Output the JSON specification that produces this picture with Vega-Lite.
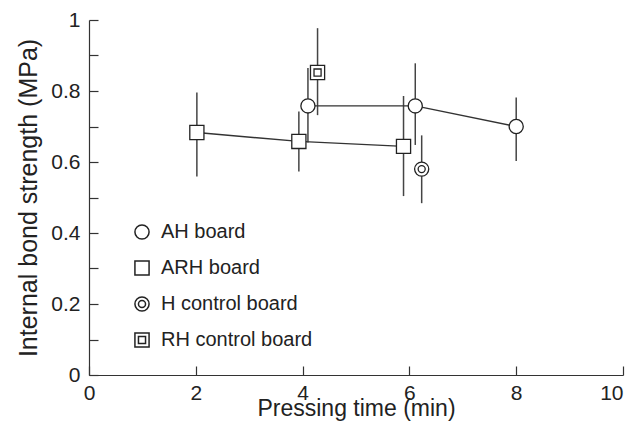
{
  "$schema": "https://vega.github.io/schema/vega-lite/v6.json",
  "width": 534,
  "height": 355,
  "autosize": {"type": "none"},
  "padding": {"left": 89, "top": 20, "right": 10, "bottom": 66},
  "background": "white",
  "config": {
    "font": "Liberation Sans",
    "view": {"stroke": null},
    "point": {"opacity": 1},
    "axis": {"grid": false, "domainColor": "#333", "tickColor": "#333", "labelColor": "#222", "titleColor": "#222", "titleFontWeight": "normal", "domainWidth": 1.2, "tickWidth": 1.2}
  },
  "data": {
    "values": [
      {"group": "AH board", "x": 4.1, "y": 0.758, "lo": 0.655, "hi": 0.865},
      {"group": "AH board", "x": 6.11, "y": 0.758, "lo": 0.648, "hi": 0.878},
      {"group": "AH board", "x": 8.0, "y": 0.70, "lo": 0.603, "hi": 0.782},
      {"group": "ARH board", "x": 2.02, "y": 0.683, "lo": 0.559, "hi": 0.796},
      {"group": "ARH board", "x": 3.93, "y": 0.658, "lo": 0.573, "hi": 0.742},
      {"group": "ARH board", "x": 5.89, "y": 0.644, "lo": 0.504, "hi": 0.786},
      {"group": "H control board", "x": 6.23, "y": 0.580, "lo": 0.484, "hi": 0.675},
      {"group": "RH control board", "x": 4.28, "y": 0.852, "lo": 0.732, "hi": 0.977}
    ]
  },
  "encoding": {
    "x": {
      "field": "x", "type": "quantitative",
      "scale": {"domain": [0, 10], "nice": false, "zero": false},
      "axis": {"title": "Pressing time (min)", "values": [0, 2, 4, 6, 8, 10], "tickSize": -9, "labelPadding": 16, "labelFontSize": 21, "titleFontSize": 23, "titlePadding": -6, "labelFlush": false,
        "labelAlign": {"condition": {"test": "datum.value == 10", "value": "right"}, "value": "center"}}
    },
    "y": {
      "field": "y", "type": "quantitative",
      "scale": {"domain": [0, 1], "nice": false},
      "axis": {"title": "Internal bond strength (MPa)", "values": [0, 0.1, 0.2, 0.3, 0.4, 0.5, 0.6, 0.7, 0.8, 0.9, 1], "tickSize": -9, "labelPadding": 18, "labelFontSize": 21, "titleFontSize": 25, "titlePadding": 9, "labelFlush": false,
        "labelExpr": "round(datum.value * 10) % 2 == 0 ? format(datum.value, '~g') : ''"}
    }
  },
  "layer": [
    {
      "mark": {"type": "rule", "color": "#444", "strokeWidth": 1.5},
      "encoding": {"y": {"field": "lo", "type": "quantitative"}, "y2": {"field": "hi"}}
    },
    {
      "mark": {"type": "line", "color": "#333", "strokeWidth": 1.4},
      "encoding": {"detail": {"field": "group"}}
    },
    {
      "mark": {"type": "point", "filled": true, "color": "white", "stroke": "#222", "strokeWidth": 1.3, "size": 200},
      "encoding": {
        "shape": {
          "field": "group", "type": "nominal",
          "scale": {
            "domain": ["AH board", "ARH board", "H control board", "RH control board"],
            "range": ["circle", "square", "M1,0A1,1,0,1,1,-1,0A1,1,0,1,1,1,0ZM0.5,0A0.5,0.5,0,1,1,-0.5,0A0.5,0.5,0,1,1,0.5,0Z", "M-1,-1H1V1H-1ZM-0.5,-0.5H0.5V0.5H-0.5Z"]
          },
          "legend": {
            "title": null, "orient": "none", "legendX": 43, "legendY": 202,
            "symbolSize": 200, "labelOffset": 9,
            "labelFontSize": 20, "labelColor": "#222", "rowPadding": 14
          }
        }
      }
    }
  ]
}
